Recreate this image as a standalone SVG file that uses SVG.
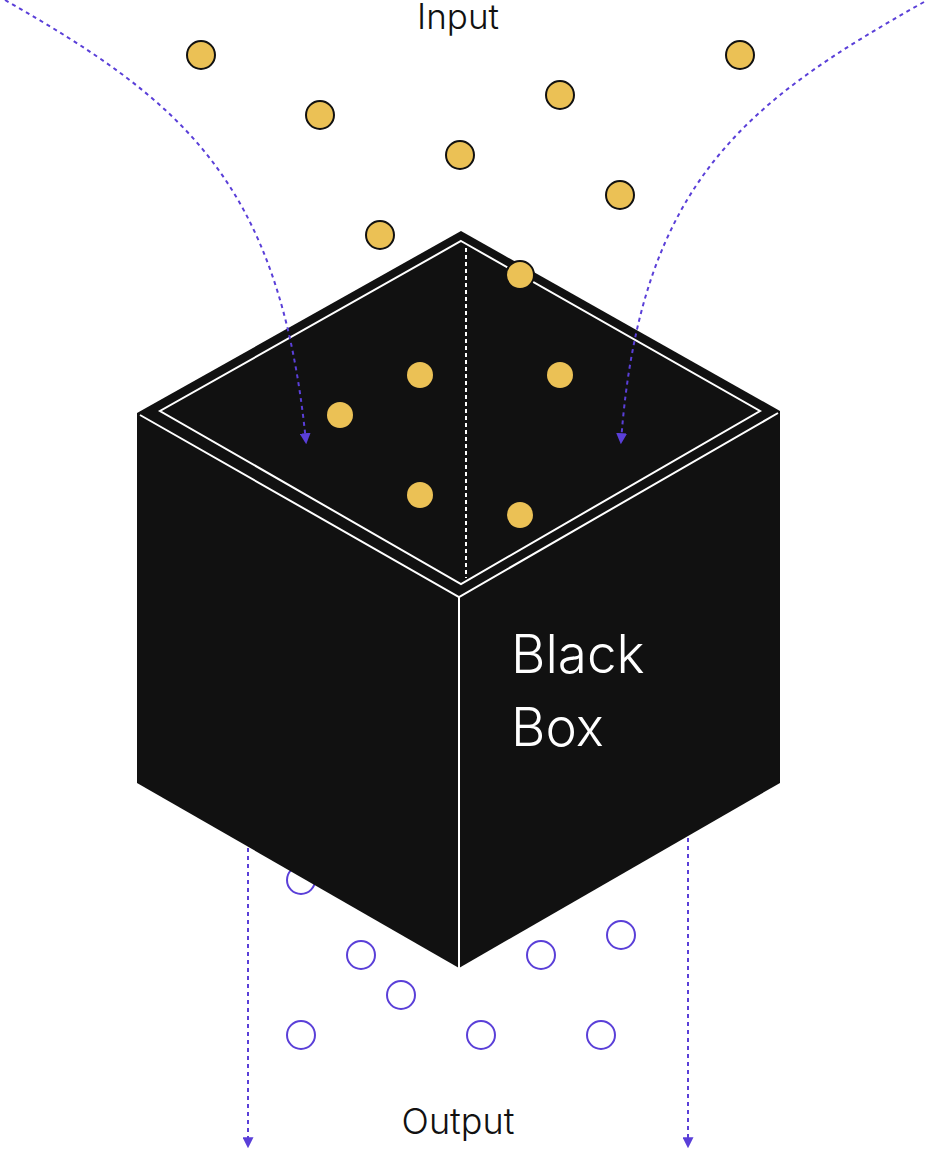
<svg xmlns="http://www.w3.org/2000/svg" width="926" height="1154" viewBox="0 0 926 1154">
<defs>
<style>
.lbl{font-family:Inter,"Liberation Sans",sans-serif;fill:#111;font-weight:300}
.flow{fill:none;stroke:#5a3fd8;stroke-width:2;stroke-dasharray:4 4}
.in{fill:#ebc155;stroke:#111;stroke-width:2}
.inb{fill:#ebc155}
.out{fill:#fff;stroke:#5a3fd8;stroke-width:2}
.wl{fill:none;stroke:#fff;stroke-width:2}
</style>
<marker id="ah2" viewBox="0 0 10 10" refX="8" refY="5" markerWidth="11" markerHeight="11" markerUnits="userSpaceOnUse" orient="auto"><path d="M0,0 L10,5 L0,10 Z" fill="#5a3fd8"/></marker>
</defs>
<g id="outputs">
<circle class="out" cx="301" cy="880" r="14"/>
<circle class="out" cx="361" cy="955" r="14"/>
<circle class="out" cx="401" cy="995" r="14"/>
<circle class="out" cx="301" cy="1035" r="14"/>
<circle class="out" cx="481" cy="1035" r="14"/>
<circle class="out" cx="541" cy="955" r="14"/>
<circle class="out" cx="621" cy="935" r="14"/>
<circle class="out" cx="601" cy="1035" r="14"/>
</g>
<g id="connectors-bottom">
<path class="flow" d="M248,840 L248,1146" marker-end="url(#ah2)"/>
<path class="flow" d="M688,830 L688,1146" marker-end="url(#ah2)"/>
</g>
<g id="black-box">
<polygon points="461,231 780,411 780,783 459,968 137,783 137,413" fill="#111"/>
<polygon class="wl" points="461,241 760,411 461,584 160,411"/>
<path class="wl" d="M140,415 L459,597 L778,413 M459,597 L459,968"/>
<path d="M466,248 L466,578" stroke="#fff" stroke-width="2" stroke-dasharray="4 3"/>
<text class="lbl" x="511" y="673" font-size="53" style="fill:#fff">Black</text>
<text class="lbl" x="511" y="746" font-size="53" style="fill:#fff">Box</text>
</g>
<g id="inputs">
<circle class="in" cx="201" cy="55" r="14"/>
<circle class="in" cx="320" cy="115" r="14"/>
<circle class="in" cx="460" cy="155" r="14"/>
<circle class="in" cx="380" cy="235" r="14"/>
<circle class="in" cx="560" cy="95" r="14"/>
<circle class="in" cx="620" cy="195" r="14"/>
<circle class="in" cx="740" cy="55" r="14"/>
<circle class="in" cx="520" cy="275" r="14"/>
<circle class="inb" cx="420" cy="375" r="13"/>
<circle class="inb" cx="340" cy="415" r="13"/>
<circle class="inb" cx="560" cy="375" r="13"/>
<circle class="inb" cx="420" cy="495" r="13"/>
<circle class="inb" cx="520" cy="515" r="13"/>
</g>
<g id="connectors">
<path class="flow" d="M5,0 C180,100 280,180 306,442" marker-end="url(#ah2)"/>
<path class="flow" d="M924,2 C750,100 640,180 621,442" marker-end="url(#ah2)"/>
</g>
<g id="labels">
<text class="lbl" x="458" y="29" font-size="35" text-anchor="middle">Input</text>
<text class="lbl" x="458" y="1134" font-size="36" text-anchor="middle">Output</text>
</g>
</svg>
